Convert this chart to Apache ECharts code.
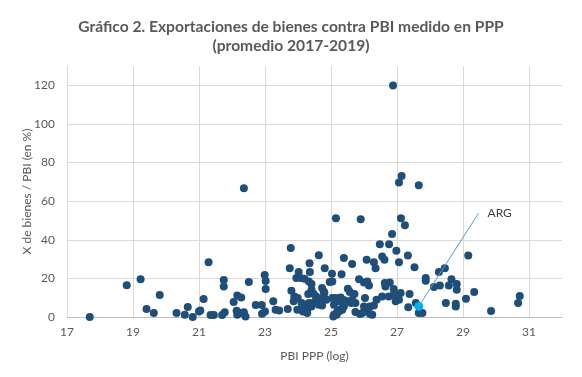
<!DOCTYPE html>
<html>
<head>
<meta charset="utf-8">
<script src="https://cdn.jsdelivr.net/npm/echarts@6/dist/echarts.min.js"></script>
<style>
  html, body { margin: 0; padding: 0; background: #fff; }
  #chart { width: 582px; height: 377px; }
</style>
</head>
<body>
<div id="chart"></div>
<script>
// PBI PPP (log) de cada país
const pbiLog = [
  17.69, 18.81, 19.23, 19.81, 19.41, 19.63, 20.32, 20.57, 20.66, 20.81,
  21.00, 21.04, 21.14, 21.29, 21.35, 21.45, 21.75, 21.75, 21.70, 21.78,
  22.05, 22.16, 22.28, 22.14, 22.16, 22.26, 22.36, 22.41, 22.36, 22.51,
  22.99, 23.02, 23.02, 22.72, 22.90, 22.91, 23.00, 23.25, 23.32, 23.43,
  23.69, 23.78, 23.75, 24.35, 24.63, 24.02, 24.36, 24.81, 23.95, 24.08,
  24.20, 24.33, 24.41, 24.96, 23.80, 23.89, 23.99, 23.87, 24.41, 24.31,
  24.48, 24.55, 24.73, 24.78, 24.73, 25.04, 24.11, 24.15, 24.23, 24.33,
  24.45, 24.53, 24.41, 24.28, 24.15, 24.28, 23.98, 24.63, 24.73, 24.86,
  25.09, 25.07, 25.17, 25.24, 25.27, 25.34, 25.15, 25.39, 25.64, 25.03,
  25.32, 25.04, 26.85, 26.48, 26.76, 26.98, 27.33, 26.08, 26.30, 26.35,
  26.55, 26.62, 27.06, 27.53, 25.85, 26.00, 26.10, 26.15, 26.63, 26.65,
  26.78, 26.90, 27.11, 27.38, 27.87, 27.87, 28.12, 28.30, 28.27, 28.45,
  29.16, 28.65, 28.57, 28.81, 28.81, 28.48, 28.78, 28.78, 29.09, 29.34,
  29.85, 30.67, 30.72, 25.51, 25.57, 25.71, 25.64, 25.74, 25.61, 25.14,
  25.29, 25.37, 25.19, 25.34, 25.39, 25.09, 26.03, 26.38, 26.55, 26.75,
  26.90, 26.00, 26.18, 26.30, 26.08, 26.18, 25.95, 26.25, 26.96, 27.06,
  25.74, 25.88, 25.19, 27.34, 27.66, 27.77, 27.14, 27.06, 27.66, 25.90,
  27.12, 27.24, 27.57, 26.88, 25.49, 24.80
];
// exportaciones de bienes / PBI (en %)
const exportPbi = [
  0.0, 16.5, 19.6, 11.4, 4.1, 2.1, 2.1, 1.2, 5.2, 0.0,
  2.9, 3.4, 9.3, 28.4, 1.0, 1.0, 19.1, 15.8, 1.0, 2.4,
  7.8, 11.2, 10.1, 3.3, 1.2, 2.1, 2.4, 0.3, 66.7, 18.1,
  21.7, 18.6, 14.5, 6.2, 6.2, 1.7, 2.9, 8.1, 3.8, 3.4,
  4.1, 35.7, 25.3, 27.9, 32.0, 23.3, 23.3, 25.3, 20.2, 20.2,
  19.8, 18.4, 17.1, 18.1, 13.6, 10.6, 9.8, 8.1, 14.1, 11.9,
  11.9, 10.6, 15.0, 13.2, 9.8, 9.8, 7.2, 5.0, 6.4, 7.2,
  7.2, 8.1, 5.5, 3.8, 2.9, 2.1, 3.8, 6.4, 6.0, 8.9,
  1.2, 0.3, 1.2, 2.9, 3.8, 3.8, 51.2, 30.5, 27.4, 22.4,
  22.2, 18.4, 43.0, 37.7, 37.7, 34.3, 31.8, 29.6, 28.4, 25.3,
  31.3, 29.6, 28.4, 25.8, 19.6, 17.9, 18.4, 16.3, 17.6, 15.8,
  17.9, 14.5, 12.4, 11.9, 20.2, 18.8, 15.5, 16.3, 23.3, 25.3,
  31.8, 19.6, 16.3, 17.1, 14.1, 7.2, 6.9, 5.5, 9.5, 12.9,
  3.1, 7.2, 10.9, 14.6, 12.9, 11.9, 8.9, 7.2, 7.2, 9.8,
  10.1, 8.9, 8.1, 7.2, 5.5, 6.4, 9.8, 8.9, 10.6, 10.6,
  11.5, 5.5, 5.5, 6.0, 3.3, 1.6, 2.1, 1.2, 8.1, 8.9,
  2.6, 1.6, 2.9, 5.0, 2.1, 2.1, 73.0, 69.6, 68.2, 50.6,
  51.2, 47.5, 7.2, 119.9, 8.1, 12.4
];
// Argentina, destacada
const argPunto = [27.66, 5.5];
const argEtiqueta = [29.47, 53.7];
const xTicks = [17, 19, 21, 23, 25, 27, 29, 31];
const yTicks = [0, 20, 40, 60, 80, 100, 120];

const grisTexto = '#595959';
const azulOscuro = '#1F4E79';

const chart = echarts.init(document.getElementById('chart'), null, { renderer: 'canvas' });

chart.setOption({
  animation: false,
  backgroundColor: '#ffffff',
  title: {
    text: 'Gráfico 2. Exportaciones de bienes contra PBI medido en PPP\n(promedio 2017-2019)',
    left: 'center',
    top: 12,
    textStyle: {
      fontFamily: 'Lato',
      fontWeight: 'bold',
      fontSize: 15.6,
      lineHeight: 19.5,
      color: grisTexto
    }
  },
  grid: { left: 67, right: 20, top: 66, bottom: 60, containLabel: false },
  xAxis: {
    type: 'value',
    min: xTicks[0],
    max: 32,
    interval: xTicks[1] - xTicks[0],
    name: 'PBI PPP (log)',
    nameLocation: 'middle',
    nameGap: 33,
    nameMoveOverlap: false,
    nameTextStyle: { fontFamily: 'Lato', fontSize: 12, color: grisTexto },
    axisLine: { show: true, lineStyle: { color: '#BFBFBF' } },
    axisTick: { show: false },
    axisLabel: {
      fontFamily: 'Lato', fontSize: 12, color: grisTexto, margin: 9,
      showMaxLabel: false
    },
    splitLine: { show: true, showMaxLine: false, lineStyle: { color: '#D9D9D9' } }
  },
  yAxis: {
    type: 'value',
    min: yTicks[0],
    max: 130,
    interval: yTicks[1] - yTicks[0],
    name: 'X de bienes / PBI (en %)',
    nameLocation: 'middle',
    nameGap: 34,
    nameMoveOverlap: false,
    nameTextStyle: { fontFamily: 'Lato', fontSize: 12, color: grisTexto },
    axisLine: { show: false },
    axisTick: { show: false },
    axisLabel: {
      fontFamily: 'Lato', fontSize: 12, color: grisTexto, margin: 12,
      showMaxLabel: false
    },
    splitLine: { show: true, showMaxLine: false, lineStyle: { color: '#D9D9D9' } }
  },
  series: [
    {
      type: 'scatter',
      symbolSize: 8,
      itemStyle: { color: azulOscuro, opacity: 1 },
      data: pbiLog.map((x, i) => [x, exportPbi[i]])
    },
    {
      type: 'line',
      symbol: 'circle',
      symbolSize: 0,
      lineStyle: { color: '#5B9BD5', width: 1 },
      data: [
        { value: argPunto },
        {
          value: argEtiqueta,
          label: {
            show: true, position: 'right', distance: 9, formatter: 'ARG',
            fontFamily: 'Lato', fontSize: 12, color: '#404040'
          }
        }
      ]
    },
    {
      type: 'scatter',
      symbolSize: 9,
      itemStyle: { color: '#00B0F0', opacity: 1 },
      data: [argPunto]
    }
  ]
});
</script>
</body>
</html>
